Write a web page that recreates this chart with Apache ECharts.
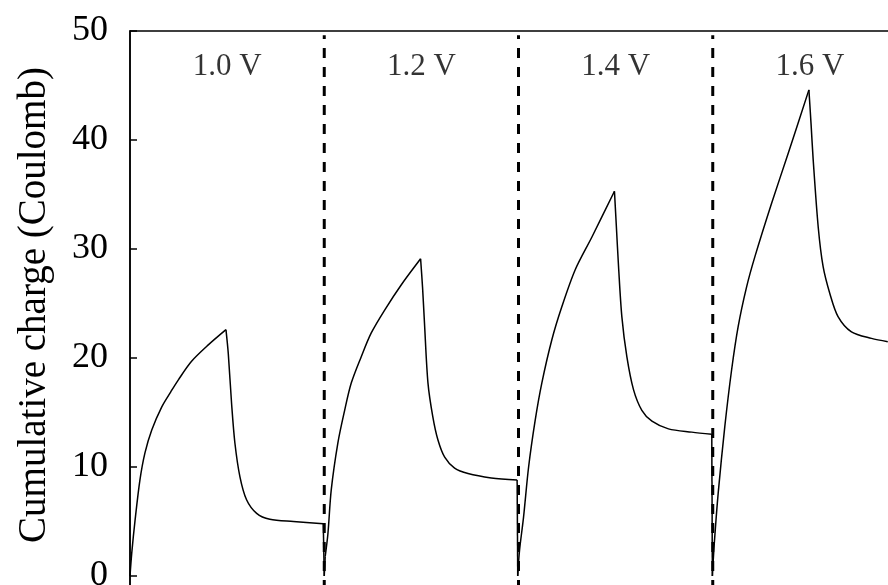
<!DOCTYPE html>
<html>
<head>
<meta charset="utf-8">
<script src="https://cdn.jsdelivr.net/npm/echarts@6/dist/echarts.min.js"></script>
<style>
  html, body { margin: 0; padding: 0; background: #fff; }
  #chart { width: 888px; height: 585px; }
</style>
</head>
<body>
<div id="chart"></div>
<script>
// Time (s) and cumulative charge (Coulomb)
var timeS = [
  0, 9, 26, 51, 77, 112, 163, 210, 249, 317, 403, 494,
  506, 523, 540, 566, 600, 652, 720, 841, 995, 1000,
  1005, 1019, 1036, 1070, 1105, 1139, 1190, 1242, 1311, 1396, 1496,
  1506, 1516, 1534, 1559, 1585, 1620, 1671, 1740, 1860, 1993, 1996,
  2005, 2026, 2052, 2086, 2120, 2172, 2223, 2292, 2378, 2494,
  2504, 2515, 2532, 2558, 2592, 2635, 2687, 2772, 2892, 2995, 2998,
  3008, 3028, 3062, 3097, 3131, 3174, 3217, 3303, 3389, 3495,
  3506, 3517, 3543, 3568, 3603, 3645, 3714, 3817, 3901
];
var chargeC = [
  0, 2.1, 5.1, 8.8, 11.3, 13.4, 15.5, 16.9, 18.0, 19.7, 21.2, 22.6,
  20.4, 15.8, 12.2, 9.1, 7.0, 5.75, 5.2, 5.0, 4.8, 0,
  1.8, 3.9, 7.9, 12.2, 15.2, 17.7, 20.1, 22.3, 24.4, 26.7, 29.1,
  26.5, 23.2, 17.7, 14.6, 12.5, 10.9, 9.9, 9.4, 9.0, 8.8, 0,
  2.3, 5.4, 10.0, 14.3, 17.7, 21.7, 24.7, 28.1, 31.1, 35.3,
  32.0, 28.4, 23.8, 20.1, 17.1, 15.2, 14.2, 13.5, 13.2, 13.0, 0,
  3.0, 7.6, 13.7, 18.9, 22.9, 26.5, 29.3, 34.2, 38.8, 44.6,
  41.5, 38.2, 32.0, 28.4, 25.9, 23.8, 22.4, 21.8, 21.5
];
var boundaries = [1000, 2000, 3000];
var voltageLabels = ['1.0 V', '1.2 V', '1.4 V', '1.6 V'];
var labelTimes = [500, 1500, 2500, 3500];
var labelCharge = 46.7;
var yTicks = [0, 10, 20, 30, 40, 50];
var yTitle = 'Cumulative charge (Coulomb)';

var serif = "'Liberation Serif', 'Times New Roman', serif";

// Split the record into monotone pieces (charging, decay, switch-over drop)
// so each piece can be smoothed while peaks stay sharp.
var pieces = [];
var cur = [[timeS[0], chargeC[0]]];
var dir = 0;
for (var i = 1; i < timeS.length; i++) {
  var d = chargeC[i] - chargeC[i - 1];
  var s = d > 0 ? 1 : -1;
  var vertical = timeS[i] - timeS[i - 1] < 6;
  if (dir !== 0 && (s !== dir || vertical)) {
    pieces.push(cur);
    cur = [[timeS[i - 1], chargeC[i - 1]]];
  }
  cur.push([timeS[i], chargeC[i]]);
  dir = vertical ? 0 : s;
  if (vertical) { pieces.push(cur); cur = [[timeS[i], chargeC[i]]]; }
}
if (cur.length > 1) pieces.push(cur);

var series = pieces.map(function (p) {
  return {
    type: 'line',
    data: p,
    showSymbol: false,
    smooth: p.length > 2 ? 0.3 : false,
    lineStyle: { color: '#000', width: 1.5, join: 'round' },
    z: 3,
    silent: true
  };
});

boundaries.forEach(function (b) {
  series.push({
    type: 'line',
    data: [[b, -10], [b, 49.6]],
    showSymbol: false,
    lineStyle: { color: '#000', width: 3, type: [10, 9] },
    z: 2,
    silent: true
  });
});

series.push({
  type: 'scatter',
  data: labelTimes.map(function (t, i) { return { value: [t, labelCharge], name: voltageLabels[i] }; }),
  symbolSize: 0,
  label: {
    show: true,
    position: 'inside',
    formatter: function (p) { return p.name; },
    color: '#000',
    fontFamily: serif,
    fontSize: 31
  },
  silent: true
});

var chart = echarts.init(document.getElementById('chart'), null, { renderer: 'canvas' });
chart.setOption({
  animation: false,
  backgroundColor: '#fff',
  grid: {
    left: 130, top: 31, width: 777, height: 654,
    outerBoundsMode: 'none',
    containLabel: false,
    show: true, borderColor: '#000', borderWidth: 1.5, backgroundColor: 'transparent'
  },
  graphic: [{
    type: 'text',
    x: 35, y: 305,
    rotation: Math.PI / 2,
    silent: true,
    style: {
      text: yTitle,
      fill: '#000',
      font: '39px ' + serif,
      align: 'center',
      verticalAlign: 'middle'
    }
  }],
  xAxis: {
    type: 'value',
    min: 0, max: 4000,
    axisLine: { show: false },
    axisTick: { show: false },
    axisLabel: { show: false },
    splitLine: { show: false }
  },
  yAxis: {
    type: 'value',
    min: -10, max: 50, interval: 10,
    axisLine: { show: true, onZero: false, lineStyle: { color: '#000', width: 1.5 } },
    axisTick: { show: true, inside: true, length: 7, lineStyle: { color: '#000', width: 1.5 } },
    axisLabel: {
      color: '#000', fontFamily: serif, fontSize: 36, margin: 22,
      formatter: function (v) { return yTicks.indexOf(v) >= 0 ? String(v) : ''; }
    },
    splitLine: { show: false }
  },
  series: series
});
</script>
</body>
</html>
